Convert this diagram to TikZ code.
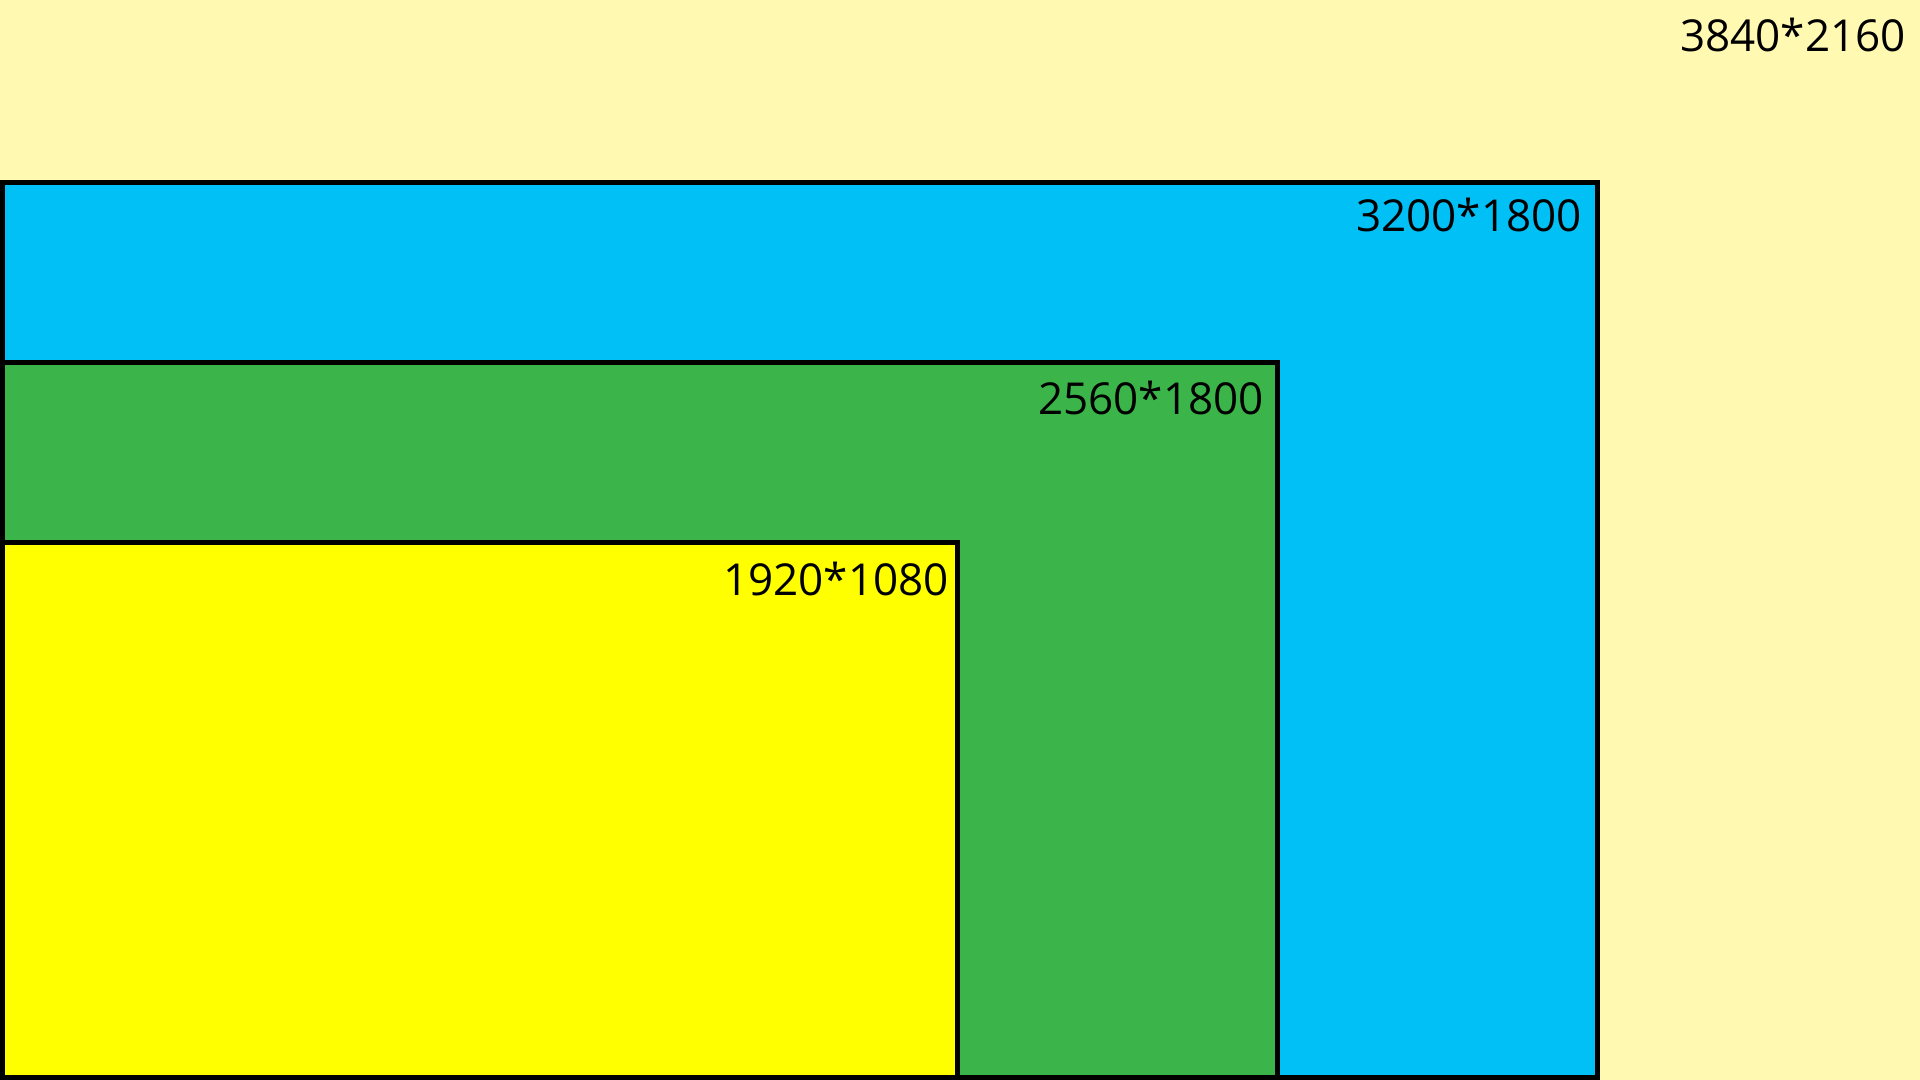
\documentclass[tikz,border=0pt]{standalone}
\usepackage{fontspec}
\setmainfont{Open Sans}
\definecolor{bgcream}{RGB}{255,249,178}
\definecolor{boxblue}{RGB}{0,192,245}
\definecolor{boxgreen}{RGB}{59,181,74}
\definecolor{boxyellow}{RGB}{255,255,0}
\begin{document}
\begin{tikzpicture}[x=0.5pt,y=-0.5pt,
  frame/.style={draw=black,line width=2.5pt,inner sep=0pt,outer sep=0pt,anchor=north west},
  lbl/.style={anchor=base east,inner sep=0pt,font=\fontsize{22}{26}\selectfont,text=black}]
\fill[bgcream] (0,0) rectangle (1920,1080);
\useasboundingbox (0,0) rectangle (1920,1080);
\node[frame,fill=boxblue,minimum width=1595pt*0.5,minimum height=895pt*0.5] (blue) at (2.5,182.5) {};
\node[frame,fill=boxgreen,minimum width=1275pt*0.5,minimum height=715pt*0.5] (green) at (2.5,362.5) {};
\node[frame,fill=boxyellow,minimum width=955pt*0.5,minimum height=535pt*0.5] (yellow) at (2.5,542.5) {};
\node[lbl] (t3840) at (1906,52) {3840*2160};
\node[lbl] (t3200) at (1582,232) {3200*1800};
\node[lbl] (t2560) at (1264,414) {2560*1800};
\node[lbl] (t1920) at (949,595) {1920*1080};
\end{tikzpicture}
\end{document}
